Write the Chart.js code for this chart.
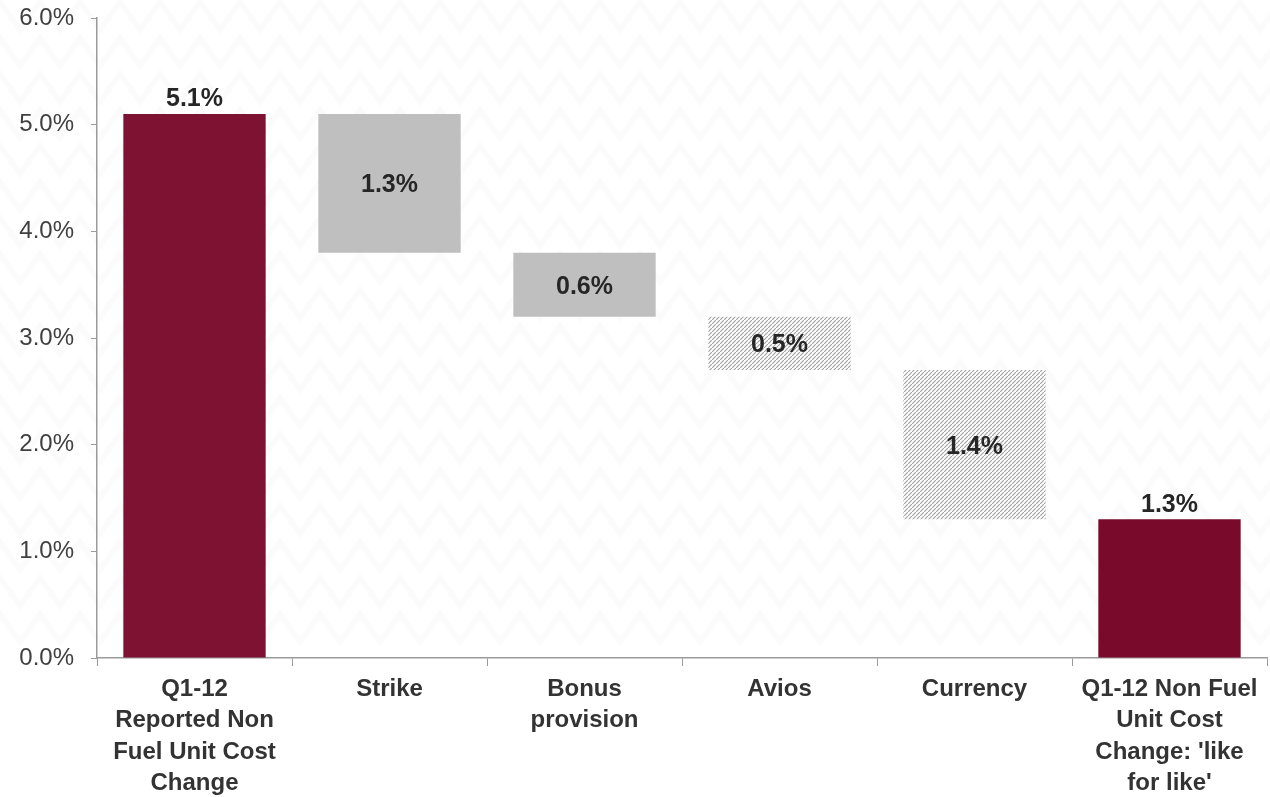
<!DOCTYPE html>
<html>
<head>
<meta charset="utf-8">
<script src="https://cdn.jsdelivr.net/npm/chart.js@4/dist/chart.umd.min.js"></script>
<style>
  html, body { margin: 0; padding: 0; background: #ffffff; }
  #wrap { position: relative; width: 1270px; height: 797px; }
</style>
</head>
<body>
<div id="wrap"><canvas id="c"></canvas></div>
<script>
// ---- data ----
const categories = [
  ["Q1-12", "Reported Non", "Fuel Unit Cost", "Change"],
  "Strike",
  ["Bonus", "provision"],
  "Avios",
  "Currency",
  ["Q1-12 Non Fuel", "Unit Cost", "Change: 'like", "for like'"]
];
const barStart = [0, 3.8, 3.2, 2.7, 1.3, 0];
const barEnd   = [5.1, 5.1, 3.8, 3.2, 2.7, 1.3];
const labelValues = [5.1, 1.3, 0.6, 0.5, 1.4, 1.3];
const barKind = ["total", "step", "step", "hatch", "hatch", "total2"];
const yTicks = [0, 1, 2, 3, 4, 5, 6];

// ---- styling helpers ----
function hatchPattern() {
  const n = 4;
  const c = document.createElement('canvas');
  c.width = n; c.height = n;
  const g = c.getContext('2d');
  g.fillStyle = '#ffffff';
  g.fillRect(0, 0, n, n);
  g.strokeStyle = '#a4a4a4';
  g.lineWidth = 1.2;
  g.beginPath();
  g.moveTo(-1, n + 1); g.lineTo(n + 1, -1);
  g.moveTo(-1 - n, n + 1 - n); g.lineTo(n + 1 - n, -1 - n);
  g.moveTo(-1 + n, n + 1 + n); g.lineTo(n + 1 + n, -1 + n);
  g.stroke();
  return document.getElementById('c').getContext('2d').createPattern(c, 'repeat');
}
const hatch = hatchPattern();
const colorFor = k => k === 'total' ? '#7d1232' : k === 'total2' ? '#790a2b' : k === 'step' ? '#bfbfbf' : hatch;

const FONT = "'Liberation Sans', Arial, sans-serif";

const watermark = {
  id: 'watermark',
  beforeDraw(chart) {
    const ctx = chart.ctx;
    ctx.save();
    ctx.strokeStyle = 'rgba(0,0,0,0.016)';
    ctx.lineWidth = 6;
    for (let y = 0; y < 640; y += 36) {
      ctx.beginPath();
      for (let x = -20, i = 0; x < 1300; x += 20, i++) {
        const yy = (i % 2 === 0) ? y + 30 : y + 2;
        if (i === 0) ctx.moveTo(x, yy); else ctx.lineTo(x, yy);
      }
      ctx.stroke();
    }
    ctx.restore();
  }
};

const valueLabels = {
  id: 'valueLabels',
  afterDatasetsDraw(chart) {
    const ctx = chart.ctx;
    const meta = chart.getDatasetMeta(0);
    ctx.save();
    ctx.font = "bold 25px " + FONT;
    ctx.fillStyle = '#262626';
    ctx.textAlign = 'center';
    meta.data.forEach((bar, i) => {
      const txt = labelValues[i].toFixed(1) + '%';
      const k = barKind[i];
      if (k === 'total' || k === 'total2') {
        ctx.textBaseline = 'bottom';
        ctx.fillText(txt, bar.x, Math.min(bar.y, bar.base) - 2);
      } else {
        ctx.textBaseline = 'middle';
        ctx.fillText(txt, bar.x, (bar.y + bar.base) / 2 + 2);
      }
    });
    ctx.restore();
  }
};

new Chart(document.getElementById('c'), {
  type: 'bar',
  data: {
    labels: categories,
    datasets: [{
      data: barStart.map((s, i) => [s, barEnd[i]]),
      backgroundColor: barKind.map(colorFor),
      borderWidth: 0,
      categoryPercentage: 1.0,
      barPercentage: 0.73
    }]
  },
  options: {
    responsive: true,
    maintainAspectRatio: false,
    animation: false,
    layout: { padding: { top: 18, right: 3, left: 0, bottom: 0 } },
    plugins: { legend: { display: false }, tooltip: { enabled: false } },
    scales: {
      x: {
        offset: true,
        grid: { display: true, drawOnChartArea: false, drawTicks: true, tickLength: 8, color: '#9a9a9a', offset: true },
        border: { display: true, color: '#9a9a9a', width: 1.5 },
        ticks: {
          color: '#333333',
          font: { family: FONT, size: 24, weight: 'bold', lineHeight: 1.3 },
          padding: 8,
          maxRotation: 0,
          autoSkip: false
        },
        afterFit(s) { s.height = 139; s.paddingLeft = 0; s.paddingRight = 0; }
      },
      y: {
        min: 0, max: 6,
        afterBuildTicks(s) { s.ticks = yTicks.map(v => ({ value: v })); },
        grid: { display: true, drawOnChartArea: false, drawTicks: true, tickLength: 6, color: '#9a9a9a' },
        border: { display: true, color: '#9a9a9a', width: 1.5 },
        ticks: {
          color: '#404040',
          font: { family: FONT, size: 24 },
          padding: 17,
          callback: v => v.toFixed(1) + '%'
        },
        afterFit(s) { s.width = 97; s.paddingTop = 0; s.paddingBottom = 0; }
      }
    }
  },
  plugins: [watermark, valueLabels]
});
</script>
</body>
</html>
